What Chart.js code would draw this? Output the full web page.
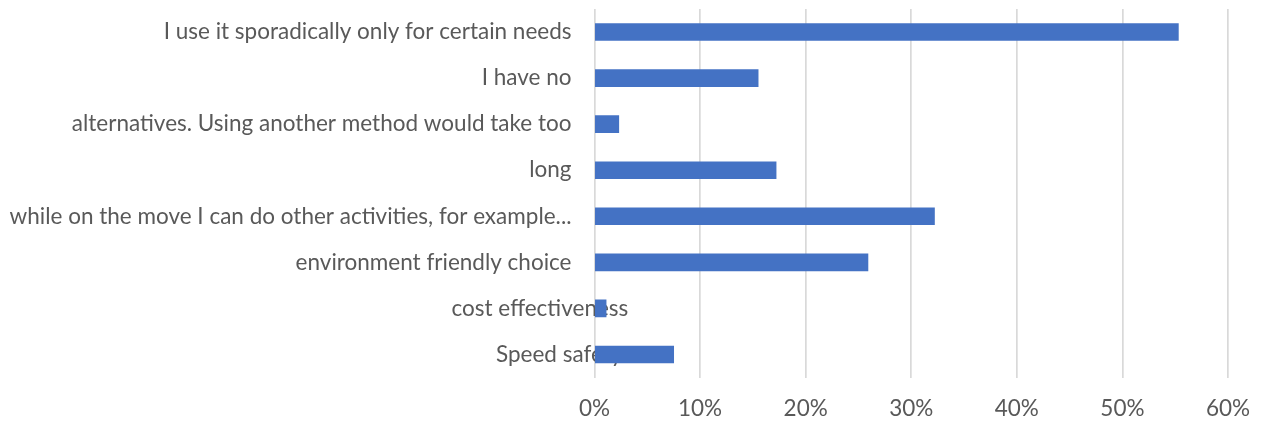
<!DOCTYPE html>
<html>
<head>
<meta charset="utf-8">
<script src="https://cdn.jsdelivr.net/npm/chart.js@4"></script>
<style>
  html, body { margin: 0; padding: 0; background: #ffffff; }
  #wrap { width: 1262px; height: 423px; }
</style>
</head>
<body>
<div id="wrap"><canvas id="chart" width="1262" height="423"></canvas></div>
<script>
// Reasons for using the service (share of respondents, %)
const categories = [
  "I use it sporadically only for certain needs",
  "I have no",
  "alternatives. Using another method would take too",
  "long",
  "while on the move I can do other activities, for example...",
  "environment friendly choice",
  "cost effectiveness",
  "Speed safety"
];
const shares = [55.3, 15.5, 2.3, 17.2, 32.2, 25.9, 1.1, 7.5];
const tickValues = [0, 10, 20, 30, 40, 50, 60];

const FONT = "Lato, 'Open Sans', sans-serif";
const FONT_SIZE = 22.5;
const TEXT = "#595959";

// Category labels are painted under the bars; the last two sit further right
// (given as a left-edge offset from the axis), the rest are right-aligned.
const categoryLabels = {
  id: "categoryLabels",
  beforeDatasetsDraw(chart) {
    const { ctx, chartArea, scales } = chart;
    const y = scales.y;
    const leftStart = { 6: 143, 7: 98.5 };
    ctx.save();
    ctx.font = FONT_SIZE + "px " + FONT;
    ctx.fillStyle = TEXT;
    ctx.textBaseline = "middle";
    categories.forEach((label, i) => {
      const py = y.getPixelForValue(i);
      if (leftStart[i] !== undefined) {
        ctx.textAlign = "left";
        ctx.fillText(label, chartArea.left - leftStart[i], py);
      } else {
        ctx.textAlign = "right";
        ctx.fillText(label, chartArea.left - 23, py);
      }
    });
    ctx.restore();
  }
};

new Chart(document.getElementById("chart"), {
  type: "bar",
  data: {
    labels: categories,
    datasets: [{
      data: shares,
      backgroundColor: "#4472C4",
      borderWidth: 0,
      barThickness: 17
    }]
  },
  options: {
    indexAxis: "y",
    responsive: false,
    animation: false,
    layout: { padding: { left: 586.5, right: 34, top: 9, bottom: 0 } },
    plugins: { legend: { display: false }, tooltip: { enabled: false } },
    scales: {
      x: {
        min: 0,
        max: 60,
        afterBuildTicks(scale) { scale.ticks = tickValues.map(v => ({ value: v })); },
        afterFit(scale) {
          scale.height = 45.5;
          scale.paddingLeft = 0;
          scale.paddingRight = 0;
        },
        grid: { color: "#d9d9d9", lineWidth: 1.7, drawTicks: false },
        border: { display: false },
        ticks: {
          color: TEXT,
          font: { family: FONT, size: FONT_SIZE },
          padding: 18,
          maxRotation: 0,
          callback: v => v + "%"
        }
      },
      y: {
        grid: { display: false },
        border: { display: false },
        ticks: { display: false }
      }
    }
  },
  plugins: [categoryLabels]
});
</script>
</body>
</html>
